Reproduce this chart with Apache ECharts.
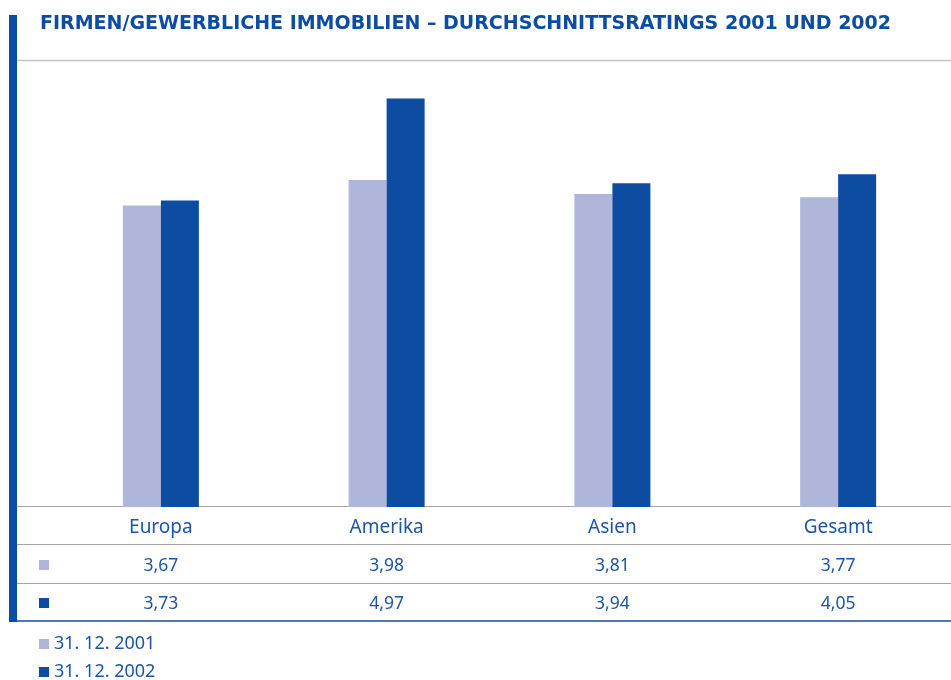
<!DOCTYPE html>
<html>
<head>
<meta charset="utf-8">
<title>Firmen/Gewerbliche Immobilien</title>
<script src="https://cdn.jsdelivr.net/npm/echarts@6/dist/echarts.min.js"></script>
<style>
    html, body { margin: 0; padding: 0; background: #fff; }
    #chart { width: 951px; height: 680px; }
</style>
</head>
<body>
<div id="chart"></div>
<script>
var categories = ['Europa', 'Amerika', 'Asien', 'Gesamt'];
var seriesNames = ['31. 12. 2001', '31. 12. 2002'];
var values2001 = [3.67, 3.98, 3.81, 3.77];
var values2002 = [3.73, 4.97, 3.94, 4.05];

var lightBlue = '#afb6da';
var darkBlue = '#0c4da2';
var textBlue = '#1b56a6';

function fmt(v) {
    return v.toFixed(2).replace('.', ',');
}

var chart = echarts.init(document.getElementById('chart'));

var option = {
    animation: false,
    title: {
        text: 'FIRMEN/GEWERBLICHE IMMOBILIEN – DURCHSCHNITTSRATINGS 2001 UND 2002',
        left: 35,
        top: 10,
        textStyle: {
            fontFamily: 'DejaVu Sans',
            fontWeight: 'bold',
            fontSize: 19,
            color: darkBlue
        }
    },
    legend: {
        orient: 'vertical',
        left: 39,
        top: 635,
        height: 60,
        padding: 0,
        icon: 'rect',
        itemWidth: 10,
        itemHeight: 10,
        itemGap: 10,
        textStyle: {
            fontFamily: 'Noto Sans',
            fontSize: 18,
            color: textBlue
        },
        data: seriesNames
    },
    grid: {
        left: 48,
        top: 60,
        width: 904,
        bottom: 173
    },
    xAxis: {
        type: 'category',
        data: categories,
        axisLine: {show: false},
        axisTick: {show: false},
        axisLabel: {
            margin: 2,
            interval: 0,
            formatter: function (name, idx) {
                return '{c|' + name + '}\n{v|' + fmt(values2001[idx]) + '}\n{v|' + fmt(values2002[idx]) + '}';
            },
            rich: {
                c: {fontFamily: 'Noto Sans', fontSize: 19, lineHeight: 38, color: textBlue},
                v: {fontFamily: 'Noto Sans', fontSize: 17.5, lineHeight: 38, color: textBlue}
            }
        }
    },
    yAxis: {
        type: 'value',
        min: 0,
        max: 5.44,
        show: false,
        splitLine: {show: false}
    },
    series: [
        {
            name: seriesNames[0],
            type: 'bar',
            data: values2001,
            barWidth: 38,
            barGap: '0%',
            itemStyle: {color: lightBlue}
        },
        {
            name: seriesNames[1],
            type: 'bar',
            data: values2002,
            barWidth: 38,
            itemStyle: {color: darkBlue}
        }
    ],
    graphic: [
        // left blue bar
        {type: 'rect', shape: {x: 9, y: 15, width: 8, height: 607}, style: {fill: darkBlue}},
        // top rule
        {type: 'line', shape: {x1: 17, y1: 60.5, x2: 951, y2: 60.5}, style: {stroke: '#c4c4c4', lineWidth: 1.5}},
        // table rules
        {type: 'line', shape: {x1: 17, y1: 506.5, x2: 951, y2: 506.5}, style: {stroke: '#a5a5a5', lineWidth: 1}},
        {type: 'line', shape: {x1: 17, y1: 544.5, x2: 951, y2: 544.5}, style: {stroke: '#a5a5a5', lineWidth: 1}},
        {type: 'line', shape: {x1: 17, y1: 583.5, x2: 951, y2: 583.5}, style: {stroke: '#a5a5a5', lineWidth: 1}},
        {type: 'line', shape: {x1: 9, y1: 621, x2: 951, y2: 621}, style: {stroke: darkBlue, lineWidth: 1.5}},
        // row markers
        {type: 'rect', shape: {x: 39, y: 560, width: 10, height: 10}, style: {fill: lightBlue}},
        {type: 'rect', shape: {x: 39, y: 598, width: 10, height: 10}, style: {fill: darkBlue}}
    ]
};

chart.setOption(option);
</script>
</body>
</html>
